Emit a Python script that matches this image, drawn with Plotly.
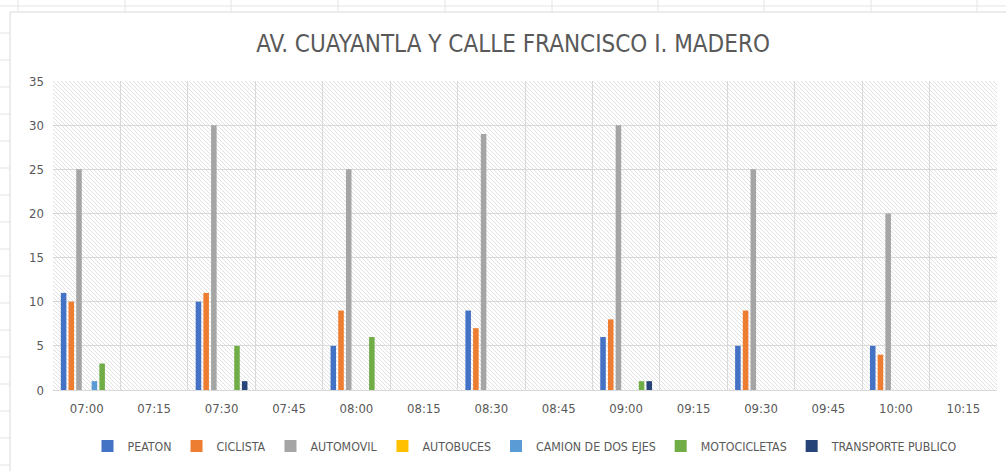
import base64
import plotly.graph_objects as go

categories = ["07:00", "07:15", "07:30", "07:45", "08:00", "08:15", "08:30",
              "08:45", "09:00", "09:15", "09:30", "09:45", "10:00", "10:15"]

peaton = [11, 0, 10, 0, 5, 0, 9, 0, 6, 0, 5, 0, 5, 0]
ciclista = [10, 0, 11, 0, 9, 0, 7, 0, 8, 0, 9, 0, 4, 0]
automovil = [25, 0, 30, 0, 25, 0, 29, 0, 30, 0, 25, 0, 20, 0]
autobuces = [0, 0, 0, 0, 0, 0, 0, 0, 0, 0, 0, 0, 0, 0]
camion = [1, 0, 0, 0, 0, 0, 0, 0, 0, 0, 0, 0, 0, 0]
motocicletas = [3, 0, 5, 0, 6, 0, 0, 0, 1, 0, 0, 0, 0, 0]
transporte = [0, 0, 1, 0, 0, 0, 0, 0, 1, 0, 0, 0, 0, 0]

series = [
    ("PEATON", peaton, "#4472C4"),
    ("CICLISTA", ciclista, "#ED7D31"),
    ("AUTOMOVIL", automovil, "#A5A5A5"),
    ("AUTOBUCES", autobuces, "#FFC000"),
    ("CAMION DE DOS EJES", camion, "#5B9BD5"),
    ("MOTOCICLETAS", motocicletas, "#70AD47"),
    ("TRANSPORTE PUBLICO", transporte, "#264478"),
]

W, H = 1006, 471
L, R, T, B = 53, 9, 81, 81
PW, PH = W - L - R, H - T - B

FONT = "Liberation Sans Narrow, DejaVu Sans Condensed, Arial Narrow, sans-serif"
TXT = "#595959"

fig = go.Figure()
for name, vals, color in series:
    fig.add_trace(go.Bar(x=categories, y=vals, name=name, marker_color=color,
                         marker_line_width=0))

# hatched plot background (Excel pattern fill)
svg = (
    f'<svg xmlns="http://www.w3.org/2000/svg" width="{PW}" height="{PH}" '
    f'viewBox="0 0 {PW} {PH}" preserveAspectRatio="none">'
    '<defs><pattern id="p" patternUnits="userSpaceOnUse" width="4" height="4">'
    '<path d="M-1,-1 L5,5 M-1,3 L1,5 M3,-1 L5,1" stroke="#DEDEDE" stroke-width="0.9"/>'
    '</pattern></defs>'
    f'<rect width="{PW}" height="{PH}" fill="white"/>'
    f'<rect width="{PW}" height="{PH}" fill="url(#p)"/></svg>'
)
src = "data:image/svg+xml;base64," + base64.b64encode(svg.encode()).decode()

def px_x(p):
    return (p - L) / PW

def px_y(p):
    return (H - B - p) / PH

SHEET = "#E4E4E4"
shapes = [dict(type="rect", xref="paper", yref="paper",
               x0=px_x(10), x1=px_x(1010), y0=px_y(480), y1=px_y(12),
               line=dict(color="#D9D9D9", width=1), fillcolor="rgba(0,0,0,0)",
               layer="below"),
          dict(type="line", xref="paper", yref="paper",
               x0=px_x(0), x1=px_x(1006), y0=px_y(6), y1=px_y(6),
               line=dict(color=SHEET, width=1), layer="below")]
for yy in range(33, 471, 27):
    shapes.append(dict(type="line", xref="paper", yref="paper",
                       x0=px_x(0), x1=px_x(10), y0=px_y(yy), y1=px_y(yy),
                       line=dict(color=SHEET, width=1), layer="below"))
for xx in [18, 125, 231, 338, 445, 552, 658, 764, 871, 977]:
    shapes.append(dict(type="line", xref="paper", yref="paper",
                       x0=px_x(xx), x1=px_x(xx), y0=px_y(0), y1=px_y(12),
                       line=dict(color=SHEET, width=1), layer="below"))

fig.update_layout(
    width=W, height=H,
    margin=dict(l=L, r=R, t=T, b=B, autoexpand=False),
    paper_bgcolor="white", plot_bgcolor="white",
    barmode="group", bargap=0.2, bargroupgap=0.28,
    font=dict(family=FONT, color=TXT, size=13),
    title=dict(text="AV. CUAYANTLA Y CALLE FRANCISCO I. MADERO",
               x=0.51, xanchor="center", y=1 - 44 / H, yanchor="middle",
               font=dict(family=FONT, size=24, color=TXT)),
    legend=dict(orientation="h", x=0.5, xanchor="center",
                y=px_y(446), yanchor="middle",
                font=dict(family=FONT, size=12.3, color=TXT),
                itemclick=False, traceorder="normal"),
    images=[dict(source=src, xref="paper", yref="paper", x=0, y=1,
                 sizex=1, sizey=1, xanchor="left", yanchor="top",
                 sizing="stretch", layer="below")],
    shapes=shapes,
    showlegend=True,
)

fig.update_xaxes(type="category", tickson="boundaries", showgrid=True,
                 gridcolor="#D9D9D9", gridwidth=1, ticks="",
                 showline=True, linecolor="#D9D9D9", linewidth=1,
                 tickfont=dict(size=13, color=TXT), ticklabelstandoff=6)
fig.update_yaxes(range=[0, 35], dtick=5, showgrid=True, gridcolor="#D9D9D9",
                 gridwidth=1, zeroline=False, ticks="",
                 tickfont=dict(size=13, color=TXT), ticklabelstandoff=8)

fig.write_html("out.html", config={"displayModeBar": False},
               post_script="document.body.style.margin='0';"
                           "document.body.style.overflow='hidden';")
